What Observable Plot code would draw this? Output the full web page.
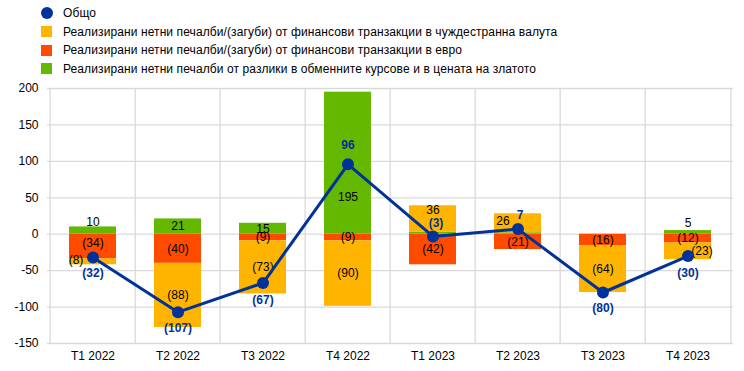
<!DOCTYPE html>
<html><head><meta charset="utf-8">
<script src="https://cdn.jsdelivr.net/npm/d3@7"></script>
<script src="https://cdn.jsdelivr.net/npm/@observablehq/plot@0.6"></script>
<style>
body{margin:0;background:#fff;font-family:"Liberation Sans",Arial,sans-serif;}
#legend{height:80px;box-sizing:border-box;padding-top:4px;padding-left:41px;font-size:12px;color:#000;letter-spacing:0.1px}
.row{height:18.5px;display:flex;align-items:center}
.sw{width:11px;height:11px;margin-right:11px;flex:none}
.dot{border-radius:50%;width:12px;height:12px;margin-left:-0.5px;margin-right:10.5px}
</style></head><body>
<div id="legend"></div><div id="chart"></div>
<script>
// ---- data ----
const quarters = ["T1 2022","T2 2022","T3 2022","T4 2022","T1 2023","T2 2023","T3 2023","T4 2023"];
const foreignCcy = [-8,-88,-73,-90,36,26,-64,-23];
const euro = [-34,-40,-9,-9,-42,-21,-16,-12];
const fxGold = [10,21,15,195,3,2,0,5];
const total = [-32,-107,-67,96,-3,7,-80,-30];
const totalName = "Общо";
const seriesNames = [
  "Реализирани нетни печалби/(загуби) от финансови транзакции в чуждестранна валута",
  "Реализирани нетни печалби/(загуби) от финансови транзакции в евро",
  "Реализирани нетни печалби от разлики в обменните курсове и в цената на златото"
];
const yTicks = [-150,-100,-50,0,50,100,150,200];

// ---- styles ----
const seriesColors = ["#FFB400","#FF4B00","#65B800"];
const totalColor = "#003299";
const grid = "#d9d9d9";

// legend
const lg = document.getElementById("legend");
lg.innerHTML = `<div class="row"><div class="sw dot" style="background:${totalColor}"></div>${totalName}</div>` +
  seriesNames.map((n,i)=>`<div class="row"><div class="sw" style="background:${seriesColors[i]}"></div>${n}</div>`).join("");

// stacking (order: euro nearest zero, then fx/gold, then foreign currency)
const stackOrder = [{name:seriesNames[1], vals:euro},{name:seriesNames[2], vals:fxGold},{name:seriesNames[0], vals:foreignCcy}];
const segs = [];
quarters.forEach((q,i)=>{
  let pos=0, neg=0;
  for (const s of stackOrder) {
    const v = s.vals[i];
    if (v >= 0) { segs.push({q, series:s.name, v, y1:pos, y2:pos+v}); pos += v; }
    else { segs.push({q, series:s.name, v, y1:neg, y2:neg+v}); neg += v; }
  }
});
const fmt = v => v < 0 ? `(${-v})` : `${v}`;

// label nudges (px) – keyed by quarter index and series index (0 fc, 1 euro, 2 fx)
const nudge = {
  "0|2":[0,-8], "0|0":[-17,-2], "0|1":[0,-3],
  "3|2":[0,34], "4|0":[0,-9], "5|0":[-15,-2],
  "7|2":[0,-9.5], "7|0":[14,0]
};
const totalNudge = [[0,16],[0,16],[0,17],[0,-19],[3,-13],[2,-14],[0,16],[0,17]];

const labelMarks = segs.filter(d=>Math.abs(d.v)>=5).map(d=>{
  const qi = quarters.indexOf(d.q), si = seriesNames.indexOf(d.series);
  const [dx,dy] = nudge[qi+"|"+si] || [0,0];
  return Plot.text([d], {x:"q", y:e=>(e.y1+e.y2)/2, text:e=>fmt(e.v), dx, dy, fill:"#000", fontSize:12});
});
const totData = quarters.map((q,i)=>({q, v:total[i]}));
const totLabelMarks = totData.map((d,i)=>Plot.text([d], {x:"q", y:"v", text:e=>fmt(e.v), dx:totalNudge[i][0], dy:totalNudge[i][1], fill:totalColor, fontWeight:"bold", fontSize:12}));

const W = 744, mL = 47, mR = 11;
const step = (W - mL - mR) / quarters.length;

const chart = Plot.plot({
  width: W, height: 291, marginTop: 8, marginBottom: 28, marginLeft: mL, marginRight: mR,
  style: {fontFamily:"'Liberation Sans', Arial, sans-serif", fontSize:"12px", color:"#000", background:"#fff"},
  x: {domain: quarters, paddingInner: 0.447, paddingOuter: 0.2235, align: 0.5, label: null, tickSize: 0, tickPadding: 8},
  y: {domain: [-150,200], ticks: yTicks, label: null, tickSize: 0, tickPadding: 9, tickFormat: d=>String(d)},
  color: {domain: seriesNames, range: seriesColors},
  marks: [
    Plot.ruleY(yTicks, {stroke: grid, strokeWidth: 1.3}),
    Plot.ruleX(quarters, {x: d=>d, dx: -step/2, stroke: grid, strokeWidth: 1.3}),
    Plot.ruleX([quarters[quarters.length-1]], {x: d=>d, dx: step/2, stroke: grid, strokeWidth: 1.3}),
    Plot.rectY(segs, {x: "q", y1: "y1", y2: "y2", fill: "series"}),
    ...labelMarks,
    Plot.line(totData, {x: "q", y: "v", stroke: totalColor, strokeWidth: 3}),
    Plot.dot(totData, {x: "q", y: "v", r: 6, fill: totalColor}),
    ...totLabelMarks
  ]
});
document.getElementById("chart").append(chart);
</script>
</body></html>
